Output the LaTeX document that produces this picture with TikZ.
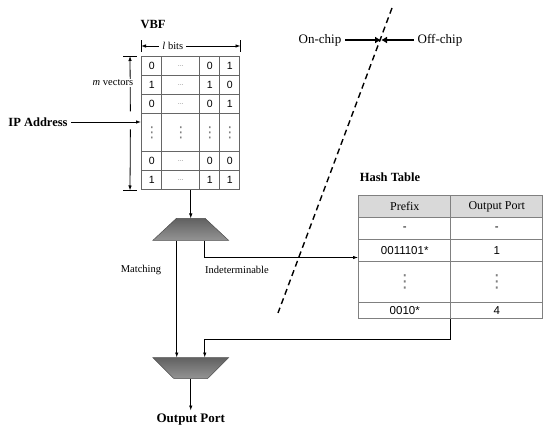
\documentclass[tikz,border=0pt]{standalone}
\usepackage{fontspec}
\setmainfont{Liberation Serif}
\newfontfamily\cellfont{Liberation Sans}
\newfontfamily\symfont{DejaVu Sans}
\usetikzlibrary{arrows.meta,positioning,matrix,shapes.geometric}

\newcommand{\celldots}{{\color{gray}\scriptsize ...}}
\newcommand{\cellvdots}[1]{{\color{gray}\symfont\fontsize{#1}{#1}\selectfont ⋮}}

\begin{document}
\begin{tikzpicture}[
    x = 1pt, y = -1pt, % pixel units, y grows downwards
    > = {Latex[length=5pt,width=3.5pt]}, % arrow head style
    line width = 0.8pt, % line style
    node distance = 28pt, % distance between nodes
    cell/.style = {draw = black!60, line width = 0.7pt, inner sep = 0pt,
        anchor = center, minimum width = 20pt, minimum height = 19pt,
        font = \cellfont\fontsize{10.5}{12}\selectfont},
    htcell/.style = {draw = black!50, line width = 0.7pt, inner sep = 0pt,
        anchor = center, minimum width = 92pt, minimum height = 22pt,
        font = \cellfont\fontsize{11.5}{13}\selectfont},
    mux/.style = {trapezium, trapezium stretches = true, draw = black!70,
        line width = 0.5pt, top color = black!62, bottom color = black!42,
        inner sep = 1pt, outer sep = 0pt},
    title/.style = {font = \bfseries\fontsize{12.5}{15}\selectfont},
    lbl/.style = {font = \fontsize{10.5}{12}\selectfont},
    chip/.style = {font = \fontsize{13}{15}\selectfont},
    ]

    \useasboundingbox (0,0) rectangle (550,435);

    % bit vectors
    \matrix (vbf) [matrix of nodes, anchor = north west, inner sep = 0pt,
        nodes = {cell}, column sep = -0.7pt, row sep = -0.7pt,
        column 2/.style = {nodes = {minimum width = 38pt}},
        row 4/.style = {nodes = {minimum height = 38pt}}] at (141,56) {
        0 & \celldots & 0 & 1 \\
        1 & \celldots & 1 & 0 \\
        0 & \celldots & 0 & 1 \\
        \cellvdots{15} & \cellvdots{15} & \cellvdots{15} & \cellvdots{15} \\
        0 & \celldots & 0 & 0 \\
        1 & \celldots & 1 & 1 \\
    };
    \node[title] (vbftitle) at (153,25) {VBF};

    % l bits
    \draw[<->] ([yshift = 10pt]vbf.north west) -- ([yshift = 10pt]vbf.north east)
        node[lbl, pos = 0.32, fill = white, inner xsep = 3pt] {\textit{l} bits};
    \draw[thin] ([yshift = 4pt]vbf.north west) -- ([yshift = 16pt]vbf.north west);
    \draw[thin] ([yshift = 4pt]vbf.north east) -- ([yshift = 16pt]vbf.north east);

    % m vectors
    \draw[->] ([xshift = -11pt, yshift = 2pt]vbf-4-1.north west) -- ([xshift = -11pt]vbf.north west);
    \draw[->] ([xshift = -11pt, yshift = -16pt]vbf-4-1.north west) -- ([xshift = -11pt]vbf.south west);
    \draw[thin] ([xshift = -18pt]vbf.north west) -- ([xshift = -4pt]vbf.north west);
    \draw[thin] ([xshift = -18pt]vbf.south west) -- ([xshift = -4pt]vbf.south west);
    \node[lbl, fill = white, inner sep = 1pt] (mvec) at (113,83) {\textit{m} vectors};

    % input
    \node[title] (ip) at (38,122) {IP Address};
    \draw[->] (ip) -- (ip -| vbf.west);

    % selectors
    \node[mux, trapezium angle = 51, minimum width = 76pt, minimum height = 22pt]
        (dec) [below = of vbf] {};
    \node[mux, shape border rotate = 180, trapezium angle = 58,
        minimum width = 76pt, minimum height = 21pt]
        (sel) [below = 117pt of dec] {};
    \node[title, font = \bfseries\fontsize{13}{15}\selectfont] (outport) [below = 32pt of sel] {Output Port};

    % hash table
    \matrix (ht) [matrix of nodes, anchor = north west, inner sep = 0pt,
        nodes = {htcell}, column sep = -0.7pt, row sep = -0.7pt,
        row 1/.style = {nodes = {fill = black!15, font = \fontsize{12}{14}\selectfont}},
        row 4/.style = {nodes = {minimum height = 41pt}},
        row 5/.style = {nodes = {minimum height = 16pt}}] at (358,195) {
        Prefix & Output Port \\
        - & - \\
        0011101* & 1 \\
        \cellvdots{18} & \cellvdots{18} \\
        0010* & 4 \\
    };
    \node[title] (httitle) at (390,177) {Hash Table};

    % connections
    \draw[->] (vbf.south) -- (dec.north);
    \draw[->] ([xshift = -14pt]dec.south) -- ([xshift = -14pt]sel.north);
    \draw[->] ([xshift = 14pt]dec.south) -- ++(0,17) coordinate (turn) -- (turn -| ht.west);
    \draw[->] (ht.south) -- ++(0,20) -| ([xshift = 14pt]sel.north);
    \draw[->] (sel.south) -- (outport.north);
    \node[lbl] (matching) at (141,270) {Matching};
    \node[lbl] (indet) at (237,270) {Indeterminable};

    % chip boundary
    \coordinate (bndtop) at (392,8);
    \coordinate (bndbot) at (278,313);
    \draw[line width = 1.4pt, dash pattern = on 6pt off 4pt] (bndtop) -- (bndbot);
    \node[chip] (onchip) at (320,40) {On-chip};
    \node[chip] (offchip) at (440,40) {Off-chip};
    \coordinate (cross) at (381,40);
    \draw[-{Latex[length=6pt,width=7pt]}, line width = 2.4pt] (onchip) -- (cross);
    \draw[-{Latex[length=6pt,width=7pt]}, line width = 2.4pt] (offchip) -- (cross);
\end{tikzpicture}
\end{document}
